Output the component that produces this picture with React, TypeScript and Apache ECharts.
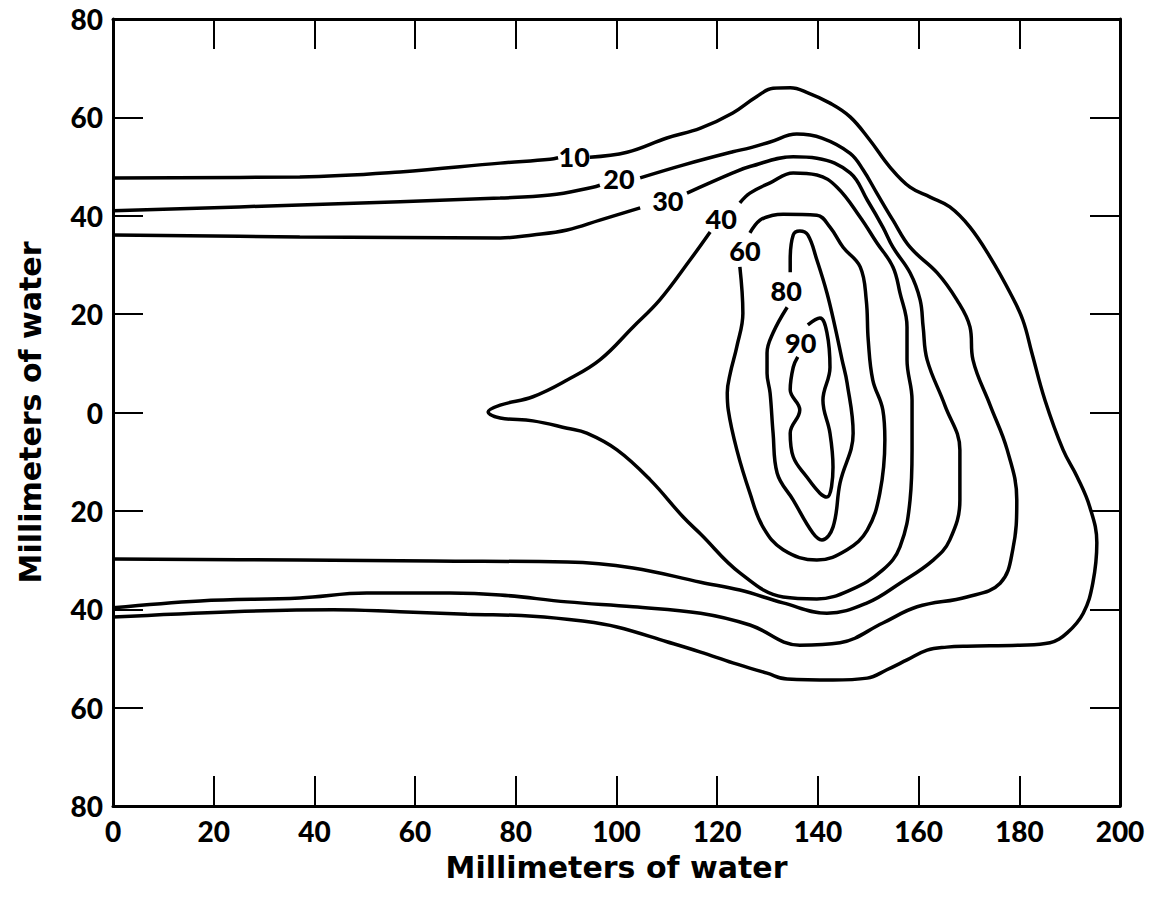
import React, { useEffect, useRef } from 'react';
import * as echarts from 'echarts';

// Contour lines (x, y) in millimeters of water; split where a value label interrupts a line.
const contour10a: number[][] = [[0, 47.7], [37.1, 47.9], [57.0, 48.9], [76.9, 50.7], [86.8, 51.5], [88.4, 51.8]];
const contour10b: number[][] = [
  [94.7, 51.9], [102.1, 52.9], [110.0, 55.8], [116.7, 57.8], [123.1, 60.9], [127.8, 64.2], [131.1, 65.9],
  [134.5, 66.0], [138.0, 65.0], [142.4, 62.9], [146.4, 60.1], [150.3, 55.4], [154.3, 49.9], [158.3, 45.8], [162.3, 43.8],
  [166.2, 41.8], [170.2, 37.7], [174.2, 31.6], [178.2, 24.3], [180.7, 18.8], [182.5, 12.1], [185.1, 2.5],
  [188.7, -7.6], [191.5, -13.1], [194.0, -19.2], [195.4, -26.5], [194.6, -34.7], [192.7, -40.8],
  [189.5, -44.8], [186.1, -46.8], [180.1, -47.3], [169.6, -47.5], [165.6, -47.7], [161.7, -48.3],
  [157.7, -50.3], [153.7, -52.3], [149.8, -54.0], [143.0, -54.4], [133.9, -54.2], [129.9, -53.0],
  [123.1, -50.9], [116.7, -48.7], [110.0, -46.6], [100.1, -43.6], [93.3, -42.4], [83.4, -41.4],
  [70.3, -41.0], [57.0, -40.5], [43.7, -40.1], [23.8, -40.5], [0, -41.6]
];
const contour20a: number[][] = [[0, 41.0], [37.1, 42.2], [76.9, 43.6], [86.8, 44.2], [95.3, 45.8], [96.7, 46.2]];
const contour20b: number[][] = [
  [104.7, 47.7], [113.2, 50.3], [123.1, 53.0], [126.5, 53.8], [130.5, 55.0], [135.8, 56.6], [140.8, 55.8],
  [146.4, 52.7], [149.0, 49.3], [151.7, 44.6], [154.9, 39.1], [158.3, 33.6], [163.7, 28.4], [167.6, 22.9],
  [170.2, 17.4], [170.8, 10.7], [174.2, 1.5], [177.6, -7.6], [179.5, -17.8], [178.7, -27.9], [176.2, -34.7],
  [169.6, -37.5], [159.7, -39.5], [152.9, -42.8], [144.4, -46.8], [136.4, -47.3], [126.5, -43.2],
  [116.7, -40.8], [103.3, -39.5], [90.2, -38.5], [76.9, -37.1], [66.9, -36.7], [50.4, -36.7],
  [37.1, -37.7], [17.3, -38.3], [0, -39.7]
];
const contour30a: number[][] = [[0, 36.1], [37.1, 35.7], [76.9, 35.5], [83.4, 36.1], [90.2, 37.1], [96.7, 39.1], [104.7, 41.6]];
const contour30b: number[][] = [
  [114.0, 44.6], [123.1, 48.7], [126.5, 50.0], [135.1, 52.0], [139.8, 51.7], [146.4, 48.7], [149.8, 43.2],
  [152.9, 37.7], [154.9, 33.6], [158.3, 28.4], [160.3, 22.9], [160.9, 17.4], [161.7, 10.7], [165.2, 1.5],
  [168.2, -7.6], [168.2, -17.8], [166.2, -25.9], [162.9, -30.0], [156.3, -34.7], [149.8, -38.7],
  [141.8, -40.8], [133.1, -38.7], [124.5, -36.1], [116.7, -34.5], [103.3, -31.6], [90.2, -30.4],
  [63.6, -30.2], [37.1, -30.0], [0, -29.8]
];
const contour40: number[][] = [
  [124.5, 42.6], [126.5, 44.6], [130.5, 46.7], [135.1, 48.7], [139.8, 48.3], [143.8, 45.8], [148.4, 39.7],
  [151.7, 34.5], [154.9, 29.6], [156.3, 24.3], [157.7, 17.4], [157.7, 10.7], [158.7, 2.5], [158.7, -7.6],
  [158.3, -17.8], [156.3, -27.3], [152.9, -32.0], [146.4, -36.1], [139.8, -37.9], [133.1, -37.5],
  [124.5, -32.6], [116.7, -24.7], [113.2, -21.2], [106.7, -13.7], [100.1, -7.6], [94.1, -4.2], [90.2, -3.2],
  [83.4, -1.7], [76.9, -1.1], [74.5, 0.1], [76.9, 1.5], [83.4, 3.2], [90.2, 6.6], [96.7, 10.7],
  [103.3, 17.4], [108.6, 22.9], [114.6, 31.0], [118.6, 36.7]
];
const contour60: number[][] = [
  [126.5, 36.5], [128.5, 39.1], [131.1, 40.1], [133.1, 40.3], [139.8, 40.1], [142.4, 37.7], [145.0, 33.6],
  [148.4, 29.6], [149.6, 22.9], [150.0, 14.7], [150.9, 6.6], [152.9, 0.5], [153.3, -5.6], [152.3, -16.4],
  [149.8, -23.9], [145.8, -27.9], [139.8, -30.0], [133.1, -27.9], [129.1, -23.3], [126.5, -16.4],
  [123.9, -7.6], [122.2, 0.5], [122.0, 4.0], [122.6, 8.0], [123.9, 13.4], [125.1, 20.2], [124.5, 29.6]
];
const contour80: number[][] = [
  [133.9, 21.4], [131.1, 16.2], [129.9, 12.1], [129.9, 8.0], [130.5, 4.0], [131.1, -4.2], [131.9, -12.3],
  [135.1, -17.8], [139.0, -24.5], [140.8, -25.9], [143.0, -23.3], [144.4, -14.3], [147.0, -4.2],
  [145.8, 6.0], [144.8, 10.7], [143.4, 17.4], [141.8, 24.3], [139.8, 31.0], [138.0, 36.1], [136.4, 36.9],
  [135.1, 36.1], [134.5, 31.0], [134.5, 28.5]
];
const contour90: number[][] = [
  [138.0, 17.8], [140.4, 19.2], [141.8, 16.2], [142.4, 9.2], [141.0, 2.5], [142.4, -4.2], [143.0, -11.1],
  [141.8, -17.2], [140.4, -16.4], [137.8, -13.1], [135.1, -9.0], [134.5, -4.2], [136.4, 0.5], [134.5, 4.6],
  [135.1, 9.2], [136.0, 11.3]
];

// Contour value labels
const labelTexts = ['10', '20', '30', '40', '60', '80', '90'];
const labelX = [91.6, 100.5, 110.2, 120.8, 125.5, 133.7, 136.6];
const labelY = [52.1, 47.5, 43.2, 39.5, 33.0, 24.9, 14.3];

const xAxisTitle = 'Millimeters of water';
const yAxisTitle = 'Millimeters of water';

const FONT = 'Lato';
const TITLE_FONT = 'DejaVu Sans';

function axisBase(extra: any) {
  return {
    type: 'value',
    interval: 20,
    splitLine: { show: false },
    axisLine: { show: true, onZero: false, lineStyle: { color: '#000', width: 3 } },
    axisTick: { show: true, inside: true, length: 30, lineStyle: { color: '#000', width: 2 } },
    ...extra,
  };
}

export default function App() {
  const ref = useRef<HTMLDivElement>(null);
  useEffect(() => {
    const chart = echarts.init(ref.current!, null, { renderer: 'svg' });
    const contours = [contour10a, contour10b, contour20a, contour20b, contour30a, contour30b, contour40, contour60, contour80, contour90];
    const lineSeries = contours.map((d) => ({
      type: 'line',
      data: d,
      smooth: 0.4,
      showSymbol: false,
      symbol: 'none',
      lineStyle: { color: '#000', width: 3.5 },
      xAxisIndex: 0,
      yAxisIndex: 0,
      z: 3,
    }));
    const labelSeries = {
      type: 'scatter',
      xAxisIndex: 0,
      yAxisIndex: 0,
      symbolSize: 1,
      itemStyle: { color: '#fff', opacity: 1 },
      data: labelTexts.map((t, i) => ({ name: t, value: [labelX[i], labelY[i]] })),
      label: {
        show: true,
        position: 'inside',
        formatter: (p: any) => p.name,
        color: '#000',
        opacity: 1,
        textBorderWidth: 0,
        fontFamily: FONT,
        fontWeight: 900,
        fontSize: 27,
      },
      z: 4,
    };
    chart.setOption({
      animation: false,
      backgroundColor: '#fff',
      grid: { left: 113, top: 19, right: 44, bottom: 102 },
      xAxis: [
        axisBase({
          min: 0, max: 200, position: 'bottom',
          axisLabel: { color: '#000', fontFamily: FONT, fontWeight: 900, fontSize: 28, margin: 11 },
          name: xAxisTitle, nameLocation: 'middle', nameGap: 46,
          nameTextStyle: { color: '#000', fontFamily: TITLE_FONT, fontWeight: 'bold', fontSize: 30 },
        }),
        axisBase({ min: 0, max: 200, position: 'top', axisLabel: { show: false } }),
      ],
      yAxis: [
        axisBase({
          min: -80, max: 80, position: 'left',
          axisLabel: { color: '#000', fontFamily: FONT, fontWeight: 900, fontSize: 28, margin: 10, formatter: (v: number) => String(Math.abs(v)) },
          name: yAxisTitle, nameLocation: 'middle', nameGap: 68,
          nameTextStyle: { color: '#000', fontFamily: TITLE_FONT, fontWeight: 'bold', fontSize: 30 },
        }),
        axisBase({ min: -80, max: 80, position: 'right', axisLabel: { show: false } }),
      ],
      series: [...lineSeries, labelSeries],
    });
    return () => chart.dispose();
  }, []);
  return (
    <div
      ref={ref}
      style={{ position: 'fixed', left: 0, top: 0, width: 1164, height: 908, background: '#fff' }}
    />
  );
}
